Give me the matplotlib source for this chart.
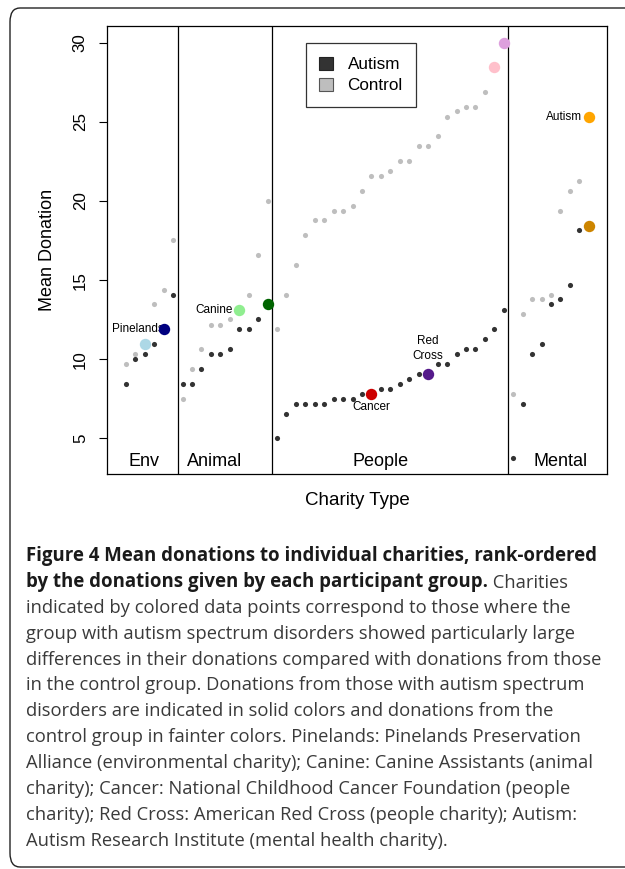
import matplotlib
matplotlib.use('Agg')
import matplotlib.pyplot as plt
from matplotlib.patches import Patch, FancyBboxPatch
import numpy as np

# charity categories and how many charities in each (x runs 1..50, rank-ordered within category)
categories = ['Env', 'Animal', 'People', 'Mental']
n_per_category = [6, 10, 25, 9]

# mean donation, autism group, sorted within each category
autism = [8.45, 10.0, 10.33, 10.96, 11.9, 14.07,
          8.45, 8.45, 9.38, 10.33, 10.33, 10.63, 11.9, 11.9, 12.51, 13.46,
          5.0, 6.57, 7.19, 7.19, 7.19, 7.19, 7.5, 7.5, 7.5, 7.82, 7.82, 8.14, 8.14,
          8.45, 8.77, 9.06, 9.06, 9.7, 9.7, 10.33, 10.63, 10.63, 11.26, 11.9, 13.14,
          3.78, 7.19, 10.33, 10.96, 13.46, 13.78, 14.7, 18.15, 18.44]

# mean donation, control group, sorted within each category
control = [9.7, 10.33, 10.96, 13.46, 14.39, 17.52,
           7.5, 9.38, 10.63, 12.19, 12.19, 12.51, 13.14, 14.07, 16.58, 20.0,
           11.9, 14.07, 15.95, 17.83, 18.78, 18.78, 19.39, 19.39, 19.71, 20.64, 21.59,
           21.59, 21.89, 22.52, 22.52, 23.45, 23.45, 24.08, 25.33, 25.65, 25.96, 25.96,
           26.91, 28.48, 30.0,
           7.82, 12.83, 13.78, 13.78, 14.07, 19.39, 20.64, 21.27, 25.31]

# highlighted charities: rank position -> colour
autism_highlight = {5: '#000080', 16: '#006400', 27: '#CD0000', 33: '#551A8B', 50: '#CD8500'}
control_highlight = {3: '#ADD8E6', 13: '#90EE90', 40: '#FFC0CB', 41: '#DDA0DD', 50: '#FFA500'}

caption_bold = ['Figure 4 Mean donations to individual charities, rank-ordered',
                'by the donations given by each participant group.']
caption_rest = ' Charities'
caption_lines = [
    'indicated by colored data points correspond to those where the',
    'group with autism spectrum disorders showed particularly large',
    'differences in their donations compared with donations from those',
    'in the control group. Donations from those with autism spectrum',
    'disorders are indicated in solid colors and donations from the',
    'control group in fainter colors. Pinelands: Pinelands Preservation',
    'Alliance (environmental charity); Canine: Canine Assistants (animal',
    'charity); Cancer: National Childhood Cancer Foundation (people',
    'charity); Red Cross: American Red Cross (people charity); Autism:',
    'Autism Research Institute (mental health charity).',
]

plt.rcParams['font.family'] = ['Liberation Sans', 'DejaVu Sans']

dark = '#333333'
light = '#BEBEBE'

fig = plt.figure(figsize=(6.25, 8.69), dpi=100)
W, H = 625, 869
ax = fig.add_axes([107.3 / W, 1 - 474 / H, 500 / W, 448 / H])

x = np.arange(1, len(autism) + 1)
autism = np.array(autism)
control = np.array(control)

ax.plot(x, control, 'o', color=light, ms=3.7, mec='none', zorder=2)
ax.plot(x, autism, 'o', color=dark, ms=3.7, mec='none', zorder=3)
for i, c in control_highlight.items():
    ax.plot(i, control[i - 1], 'o', color=c, ms=8.2, mec='none', zorder=4)
for i, c in autism_highlight.items():
    ax.plot(i, autism[i - 1], 'o', color=c, ms=8.2, mec='none', zorder=4)

# category dividers
bounds = np.cumsum(n_per_category)[:-1] + 0.5
for b in bounds:
    ax.axvline(b, color='black', lw=0.9)

cat_x = [2.95, 10.35, 28.0, 47.05]
for cx, name in zip(cat_x, categories):
    ax.text(cx, 3.53, name, ha='center', va='center', fontsize=13)

# labels next to highlighted points
ax.annotate('Pinelands', (5, 11.9), xytext=(0, 0), textcoords='offset points',
            ha='right', va='center', fontsize=8.5)
ax.annotate('Canine', (13, 13.14), xytext=(-4.5, 0), textcoords='offset points',
            ha='right', va='center', fontsize=8.5)
ax.annotate('Autism', (50, 25.31), xytext=(-4.5, 0), textcoords='offset points',
            ha='right', va='center', fontsize=8.5)
ax.annotate('Cancer', (27, 7.82), xytext=(0, -9.5), textcoords='offset points',
            ha='center', va='center', fontsize=8.5)
ax.annotate('Red\nCross', (33, 9.06), xytext=(0, 18.5), textcoords='offset points',
            ha='center', va='center', fontsize=8.5, linespacing=1.25)

ax.set_xlim(-0.96, 51.96)
ax.set_ylim(2.75, 31.05)
ax.set_xticks([])
ax.set_yticks([5, 10, 15, 20, 25, 30])
ax.tick_params(axis='y', length=6, width=0.8, pad=8, labelsize=12.2, labelrotation=90)
for lab in ax.get_yticklabels():
    lab.set_va('center')
for s in ax.spines.values():
    s.set_linewidth(0.9)
ax.set_ylabel('Mean Donation', fontsize=13, labelpad=12)
ax.set_xlabel('Charity Type', fontsize=13.5, labelpad=13)

handles = [Patch(facecolor=dark, edgecolor='#222222', lw=0.8),
           Patch(facecolor=light, edgecolor='#555555', lw=0.8)]
leg = ax.legend(handles, ['Autism', 'Control'], loc='upper left',
                bbox_to_anchor=((305.7 - 107.3) / 500, (474 - 43.3) / 448),
                fontsize=12.3, frameon=True, fancybox=False, edgecolor='black',
                handlelength=0.8, handleheight=0.8, handletextpad=0.85,
                borderpad=0.8, labelspacing=0.3, borderaxespad=0)
leg.get_frame().set_linewidth(0.9)

# page frame
frame = FancyBboxPatch((10 / W, 1 - 867 / H), 700 / W, 859 / H,
                       boxstyle='round,pad=0,rounding_size=0.016',
                       transform=fig.transFigure, fill=False, ec='#222222', lw=1.0)
fig.patches.append(frame)

# caption
cap_font = ['Open Sans', 'DejaVu Sans']
cap_size = 13.2
y0 = 556
dy = 25.9
t1 = fig.text(26 / W, 1 - y0 / H, caption_bold[0], fontsize=cap_size + 0.2, family=cap_font,
              weight='bold', color='#1a1a1a', va='center')
t2 = fig.text(26 / W, 1 - (y0 + dy) / H, caption_bold[1], fontsize=cap_size + 0.2, family=cap_font,
              weight='bold', color='#1a1a1a', va='center')
ax.annotate(caption_rest, xy=(1, 0), xycoords=t2, ha='left', va='bottom',
            fontsize=cap_size, family=cap_font, color='#3a3a3a', annotation_clip=False)
for k, line in enumerate(caption_lines):
    fig.text(26 / W, 1 - (y0 + dy * (k + 2)) / H, line, fontsize=cap_size, family=cap_font,
             color='#3a3a3a', va='center')

fig.savefig('out.png', dpi=100)
